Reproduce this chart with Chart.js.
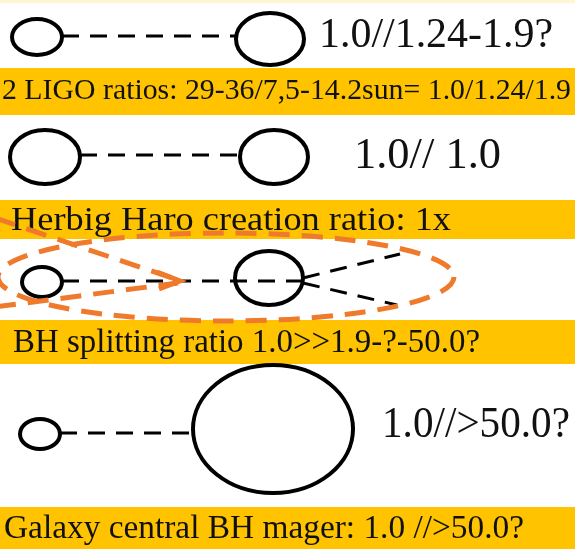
<!DOCTYPE html>
<html>
<head>
<meta charset="utf-8">
<script src="https://cdn.jsdelivr.net/npm/chart.js@4"></script>
<style>
  html, body { margin: 0; padding: 0; background: #fff; }
  #wrap { width: 575px; height: 549px; position: relative; }
</style>
</head>
<body>
<div id="wrap"><canvas id="c"></canvas></div>
<script>
// diagram values, in axis units (x 0..575, y 0..549 top-down)
const ratioLabels = ['1.0//1.24-1.9?', '1.0// 1.0', '', '1.0//>50.0?'];
const bandCaptions = [
  '2 LIGO ratios: 29-36/7,5-14.2sun= 1.0/1.24/1.9',
  'Herbig Haro creation ratio: 1x',
  'BH splitting ratio 1.0>>1.9-?-50.0?',
  'Galaxy central BH mager: 1.0 //>50.0?'
];
// [cx, cy, rx, ry]
const smallBodies = [[37, 37, 25, 18], [45, 157, 35, 27], [42, 282, 20, 15], [40, 434, 20, 15]];
const bigBodies = [[270, 39, 34, 26], [274, 157, 34, 27], [269, 278, 34, 27], [273, 429, 80, 64]];
const links = [
  [[62, 36], [236, 36]],
  [[80, 155], [240, 155]],
  [[62, 281], [303, 281]],
  [[60, 433], [193, 433]]
];
const splitLinks = [
  [[303, 278], [400, 254]],
  [[303, 283], [397, 305]]
];
const flowArms = [
  [[-5, 218], [178, 280]],
  [[-5, 307], [178, 283]]
];
const flowOutline = [226, 277, 228, 44];
const flowTip = [[157, 272], [180, 281], [159, 289]];
const bandRows = [[68, 115], [200, 239], [320, 364], [507, 549]];

// text layout: [left, right, baseline, fontSize]
const ratioLayout = [[319, 553, 47, 43], [354, 501, 168, 45], null, [382, 570, 437, 45]];
const bandLayout = [[2, 571, 99, 30], [11, 451, 230, 34], [13, 480, 352, 34], [4, 524, 538, 34]];

const BLACK = '#000';
const BAND = '#FFC300';
const ORANGE = '#F07A2C';
const FONT = '"Liberation Serif", "Times New Roman", serif';

const pts = seg => seg.map(p => ({ x: p[0], y: p[1] }));

const datasets = [];
links.concat(splitLinks).forEach(seg => datasets.push({
  data: pts(seg), showLine: true, borderColor: BLACK, borderWidth: 3,
  borderDash: [17, 11], pointRadius: 0, fill: false
}));
flowArms.forEach(seg => datasets.push({
  data: pts(seg), showLine: true, borderColor: ORANGE, borderWidth: 5,
  borderDash: [21, 12], pointRadius: 0, fill: false
}));

function drawText(ctx, xs, ys, text, lay, color) {
  const [left, right, base, size] = lay;
  ctx.save();
  ctx.font = size + 'px ' + FONT;
  ctx.fillStyle = color;
  ctx.textBaseline = 'alphabetic';
  const w = ctx.measureText(text).width;
  const target = xs.getPixelForValue(right) - xs.getPixelForValue(left);
  ctx.translate(xs.getPixelForValue(left), ys.getPixelForValue(base));
  ctx.scale(target / w, 1);
  ctx.fillText(text, 0, 0);
  ctx.restore();
}

function drawEllipse(ctx, xs, ys, e) {
  const cx = xs.getPixelForValue(e[0]), cy = ys.getPixelForValue(e[1]);
  const rx = Math.abs(xs.getPixelForValue(e[0] + e[2]) - cx);
  const ry = Math.abs(ys.getPixelForValue(e[1] + e[3]) - cy);
  ctx.beginPath();
  ctx.ellipse(cx, cy, rx, ry, 0, 0, Math.PI * 2);
  ctx.stroke();
}

const diagram = {
  id: 'diagram',
  beforeDatasetsDraw(chart) {
    const { ctx, scales: { x: xs, y: ys } } = chart;
    ctx.save();
    ctx.fillStyle = '#fff';
    ctx.fillRect(0, 0, chart.width, chart.height);
    ctx.fillStyle = '#FFF5D2';
    ctx.fillRect(0, 0, chart.width, ys.getPixelForValue(3));
    ctx.fillStyle = BAND;
    bandRows.forEach(b => {
      const top = ys.getPixelForValue(b[0]), bot = ys.getPixelForValue(b[1]);
      ctx.fillRect(xs.getPixelForValue(0), top, xs.getPixelForValue(575) - xs.getPixelForValue(0), bot - top);
    });
    bandCaptions.forEach((t, i) => drawText(ctx, xs, ys, t, bandLayout[i], '#111'));
    ratioLabels.forEach((t, i) => { if (t) drawText(ctx, xs, ys, t, ratioLayout[i], '#111'); });
    ctx.strokeStyle = BLACK;
    ctx.lineWidth = 4;
    smallBodies.concat(bigBodies).forEach(e => drawEllipse(ctx, xs, ys, e));
    ctx.restore();
  },
  afterDatasetsDraw(chart) {
    const { ctx, scales: { x: xs, y: ys } } = chart;
    ctx.save();
    ctx.strokeStyle = ORANGE;
    ctx.lineWidth = 5;
    ctx.setLineDash([21, 12]);
    drawEllipse(ctx, xs, ys, flowOutline);
    ctx.setLineDash([]);
    ctx.beginPath();
    flowTip.forEach((p, i) => {
      const px = xs.getPixelForValue(p[0]), py = ys.getPixelForValue(p[1]);
      if (i === 0) ctx.moveTo(px, py); else ctx.lineTo(px, py);
    });
    ctx.stroke();
    ctx.restore();
  }
};

new Chart(document.getElementById('c'), {
  type: 'scatter',
  data: { datasets },
  options: {
    responsive: true,
    maintainAspectRatio: false,
    animation: false,
    layout: { padding: 0 },
    plugins: { legend: { display: false }, tooltip: { enabled: false } },
    scales: {
      x: { type: 'linear', min: 0, max: 575, display: false },
      y: { type: 'linear', min: 0, max: 549, reverse: true, display: false }
    }
  },
  plugins: [diagram]
});
</script>
</body>
</html>
